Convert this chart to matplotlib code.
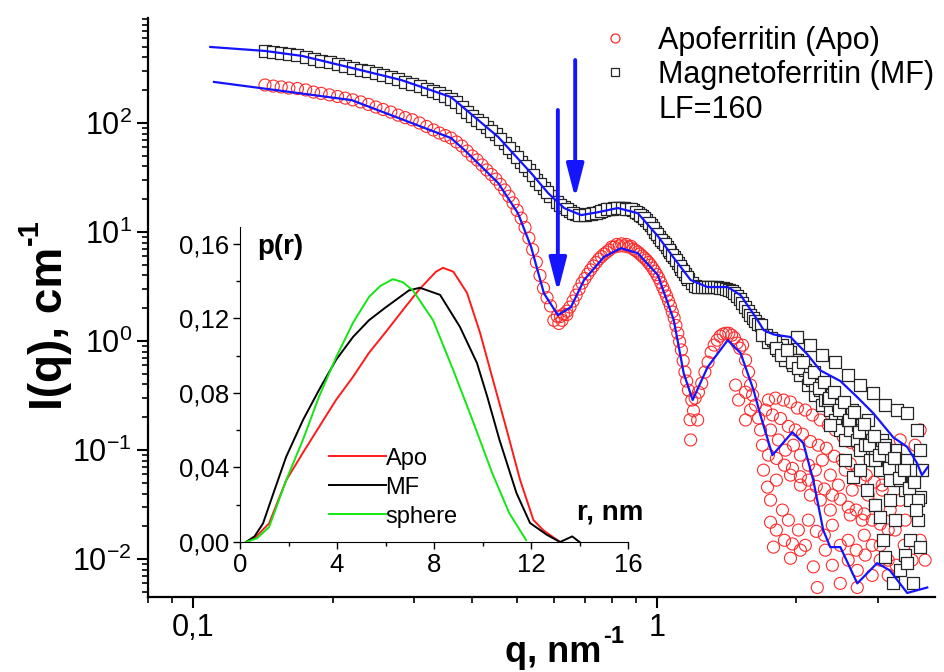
import matplotlib
matplotlib.use('Agg')
import matplotlib.pyplot as plt
from matplotlib.lines import Line2D
from matplotlib.ticker import FixedLocator, NullFormatter, LogLocator

plt.rcParams['font.family'] = 'Liberation Sans'
plt.rcParams['mathtext.fontset'] = 'custom'
plt.rcParams['mathtext.rm'] = 'Liberation Sans'
plt.rcParams['mathtext.it'] = 'Liberation Sans:italic'
plt.rcParams['mathtext.bf'] = 'Liberation Sans:bold'

# ---- SAXS data: apoferritin (circles) ----
q_apo = [0.143, 0.149, 0.155, 0.161, 0.168, 0.175, 0.182, 0.189, 0.197, 0.205,
         0.213, 0.221, 0.230, 0.239, 0.248, 0.257, 0.267, 0.277, 0.287, 0.297,
         0.308, 0.319, 0.330, 0.340, 0.350, 0.360, 0.370, 0.380, 0.390, 0.400,
         0.410, 0.430, 0.450, 0.470, 0.490, 0.510, 0.530, 0.550, 0.570, 0.590,
         0.600, 0.610, 0.615, 0.625, 0.630, 0.640, 0.650, 0.670, 0.690, 0.710,
         0.730, 0.750, 0.770, 0.790, 0.810, 0.830, 0.850, 0.870, 0.890, 0.910,
         0.930, 0.950, 0.970, 0.990, 1.010, 1.030, 1.050, 1.070, 1.090, 1.110,
         1.130, 1.150, 1.170, 1.180, 1.183, 1.190, 1.200, 1.210, 1.225, 1.230,
         1.250, 1.270, 1.290, 1.310, 1.330, 1.350, 1.370, 1.390, 1.410, 1.430,
         1.450, 1.470, 1.479, 1.490, 1.501, 1.510, 1.531, 1.554, 1.554, 1.577,
         1.593, 1.593, 1.609, 1.633, 1.657, 1.674, 1.690, 1.554, 1.741, 1.803,
         1.876, 1.942, 2.010, 2.091, 2.165, 2.252, 2.344, 2.426, 2.524, 2.613,
         2.719, 1.759, 1.829, 1.894, 1.971, 2.040, 2.123, 2.197, 2.275, 2.367,
         2.463, 2.549, 2.639, 2.746, 2.857, 2.958, 3.062, 3.186, 1.699, 1.733,
         1.759, 1.811, 1.866, 1.759, 1.785, 1.942, 1.922, 2.020, 2.091, 2.176,
         2.219, 2.309, 2.391, 2.487, 2.587, 2.706, 2.706, 2.815, 2.914, 3.032,
         3.155, 3.266, 3.348, 3.432, 3.517, 3.606, 3.697, 3.348, 3.186, 3.032,
         2.885, 2.773, 2.613, 2.367, 2.252, 2.144, 2.040, 1.942, 3.697, 3.789]
I_apo = [223, 218, 214, 209, 207, 201, 192, 187, 181, 175,
         169, 163, 156, 148, 140, 133, 126, 118, 112, 107,
         100, 92.9, 86.3, 80.9, 76.7, 72.8, 67.0, 61.5, 55.3, 49.8,
         45.8, 37.1, 30.6, 24.3, 18.5, 13.4, 8.8, 5.3, 3.06, 2.10,
         1.55, 1.69, 1.45, 1.55, 1.77, 1.75, 2.05, 2.64, 3.40, 4.12,
         4.88, 5.65, 6.28, 6.84, 7.28, 7.44, 7.44, 7.28, 6.98, 6.56,
         6.03, 5.54, 4.98, 4.38, 3.78, 3.13, 2.59, 2.10, 1.63, 1.18,
         0.83, 0.52, 0.355, 0.19, 0.124, 0.288, 0.23, 0.30, 0.189, 0.34,
         0.41, 0.52, 0.64, 0.79, 0.92, 1.02, 1.11, 1.16, 1.18, 1.18,
         1.13, 1.07, 0.395, 0.96, 0.288, 0.86, 0.918, 0.670, 0.340, 0.520,
         0.395, 0.233, 0.320, 0.259, 0.197, 0.153, 0.111, 0.189, 0.288, 0.300,
         0.288, 0.276, 0.243, 0.233, 0.210, 0.189, 0.170, 0.153, 0.132, 0.118,
         0.107, 0.153, 0.124, 0.100, 0.111, 0.090, 0.0728, 0.0656, 0.081, 0.059,
         0.0478, 0.0656, 0.043, 0.0531, 0.0387, 0.0313, 0.043, 0.0282, 0.0656, 0.0458,
         0.0348, 0.0531, 0.0282, 0.0218, 0.0129, 0.0102, 0.0228, 0.0185, 0.0134, 0.0085,
         0.0055, 0.0121, 0.0088, 0.0060, 0.0149, 0.0079, 0.0055, 0.0109, 0.0071, 0.0134,
         0.0098, 0.0185, 0.0348, 0.0228, 0.0478, 0.111, 0.153, 0.124, 0.0656, 0.090,
         0.081, 0.0228, 0.0254, 0.0282, 0.0348, 0.0387, 0.0478, 0.059, 0.0149, 0.0098]

# more circles read inside the scattered high-q cloud
q_apo_cloud = [1.716, 1.776, 1.848, 1.922, 1.990, 2.061, 2.144, 2.230, 2.321, 2.415,
               2.512, 2.613, 2.719, 2.829, 2.943, 3.062, 1.741, 1.811, 1.885, 1.961,
               2.040, 2.123, 2.208, 2.298, 2.391, 2.487, 2.587, 2.692, 2.801, 2.914,
               3.032, 3.155, 1.811, 1.885, 1.961, 2.040, 2.123, 2.208, 2.298, 2.391,
               2.487, 2.587, 2.692, 2.801, 2.914, 3.032, 3.155, 3.282, 3.415, 3.552]
I_apo_cloud = [0.233, 0.210, 0.195, 0.165, 0.153, 0.140, 0.120, 0.111, 0.104, 0.088,
               0.081, 0.075, 0.063, 0.059, 0.051, 0.0478, 0.090, 0.084, 0.0728, 0.068,
               0.057, 0.0531, 0.0465, 0.044, 0.0387, 0.0355, 0.030, 0.0282, 0.026, 0.0228,
               0.0210, 0.0185, 0.0185, 0.0149, 0.0138, 0.0121, 0.0228, 0.0180, 0.0166, 0.0205,
               0.0134, 0.0098, 0.0121, 0.0166, 0.0134, 0.0098, 0.0071, 0.0088, 0.0134, 0.0098]

# extra points read along the dense part of both bands
q_mid = [0.42, 0.44, 0.46, 0.48, 0.50, 0.52, 0.54, 0.56, 0.58, 0.62,
         0.64, 0.66, 0.68, 0.70, 0.72, 0.74, 0.76, 0.78, 0.80, 0.82,
         0.84, 0.86, 0.88, 0.90, 0.92, 0.94, 0.96, 0.98, 1.00, 1.02,
         1.04, 1.06, 1.08, 1.10, 1.12, 1.14, 1.16]
I_apo_mid = [41.2, 33.7, 27.3, 21.3, 15.8, 11.0, 6.9, 4.0, 2.5, 1.68,
             1.88, 2.33, 3.0, 3.75, 4.5, 5.25, 5.96, 6.56, 7.3, 7.7,
             7.8, 7.7, 7.4, 6.77, 6.29, 5.78, 5.25, 4.67, 4.07, 3.44,
             2.85, 2.33, 1.85, 1.39, 0.99, 0.66, 0.43]
I_mf_mid = [99, 85, 72, 59.6, 48.8, 40.4, 33.4, 27.5, 23.3, 17.8,
            16.2, 15.1, 14.4, 14.4, 14.7, 15.0, 15.5, 16.1, 16.4, 16.6,
            16.6, 16.4, 16.1, 15.4, 14.4, 13.4, 12.2, 10.8, 9.5, 8.5,
            7.7, 6.9, 6.2, 5.5, 4.9, 4.35, 3.9]

# ---- SAXS data: magnetoferritin (squares) ----
q_mf = [0.143, 0.149, 0.155, 0.161, 0.168, 0.175, 0.182, 0.189, 0.197, 0.205,
        0.213, 0.221, 0.230, 0.239, 0.248, 0.257, 0.267, 0.277, 0.287, 0.297,
        0.308, 0.319, 0.330, 0.340, 0.350, 0.360, 0.370, 0.380, 0.390, 0.400,
        0.410, 0.430, 0.450, 0.470, 0.490, 0.510, 0.530, 0.550, 0.570, 0.590,
        0.610, 0.630, 0.650, 0.670, 0.690, 0.710, 0.730, 0.750, 0.770, 0.790,
        0.810, 0.830, 0.850, 0.870, 0.890, 0.910, 0.930, 0.950, 0.970, 0.990,
        1.010, 1.030, 1.050, 1.070, 1.090, 1.110, 1.130, 1.150, 1.170, 1.190,
        1.210, 1.230, 1.250, 1.270, 1.290, 1.310, 1.330, 1.350, 1.370, 1.390,
        1.410, 1.430, 1.450, 1.470, 1.490, 1.510, 1.530, 1.550, 1.570, 1.590,
        1.610, 1.630, 1.650, 1.674, 1.716, 1.741, 1.785, 1.829, 1.866, 1.894,
        1.942, 1.971, 2.010, 2.040, 2.091, 2.123, 2.165, 2.197, 2.252, 2.275,
        2.309, 2.367, 2.391, 2.426, 2.463, 2.487, 2.524, 2.549, 2.587, 2.613,
        2.639, 2.706, 2.719, 2.746, 2.773, 2.815, 2.857, 2.885, 2.914, 2.958,
        3.032, 3.062, 3.155, 3.186, 3.266, 3.348, 3.432, 3.466, 3.517, 3.570,
        3.606, 2.010, 2.144, 2.275, 2.426, 2.587, 2.746, 2.929, 3.108, 3.299,
        3.466, 3.641, 3.697, 2.367, 2.549, 2.653, 2.746, 2.843, 2.958, 3.032,
        3.077, 3.108, 3.234, 3.348, 3.432, 3.466, 3.517, 3.570, 3.659, 3.697,
        3.733, 3.697, 3.266, 3.186, 3.348, 2.958, 3.108, 2.613, 2.344, 2.197,
        1.990, 1.894, 1.803]
I_mf = [458, 448, 438, 430, 421, 403, 386, 374, 363, 348,
        333, 320, 306, 297, 288, 275, 264, 251, 238, 228,
        218, 207, 197, 187, 177, 166, 156, 140, 126, 116,
        107, 91.9, 79.3, 65.6, 54.2, 43.9, 37.1, 30.0, 25.3, 21.4,
        18.8, 16.9, 15.6, 14.6, 14.3, 14.6, 14.9, 15.2, 15.9, 16.3,
        16.6, 16.6, 16.6, 16.3, 15.9, 14.9, 14.0, 12.9, 11.6, 10.0,
        9.0, 8.1, 7.3, 6.6, 5.9, 5.2, 4.6, 4.12, 3.71, 3.40,
        3.20, 3.13, 3.13, 3.13, 3.13, 3.13, 3.13, 3.13, 3.06, 3.06,
        3.00, 2.93, 2.88, 2.76, 2.59, 2.43, 2.23, 2.05, 1.88, 1.73,
        1.63, 1.52, 1.43, 1.40, 1.13, 0.98, 1.02, 0.826, 0.918, 0.670,
        0.792, 0.602, 0.670, 0.488, 0.542, 0.395, 0.439, 0.320, 0.355, 0.259,
        0.288, 0.233, 0.320, 0.189, 0.259, 0.153, 0.218, 0.124, 0.189, 0.153,
        0.233, 0.124, 0.170, 0.100, 0.153, 0.111, 0.189, 0.081, 0.124, 0.100,
        0.0656, 0.124, 0.081, 0.0531, 0.100, 0.0656, 0.043, 0.081, 0.0348, 0.0531,
        0.0656, 1.09, 0.918, 0.745, 0.641, 0.488, 0.395, 0.333, 0.259, 0.233,
        0.218, 0.153, 0.100, 0.170, 0.081, 0.0565, 0.0656, 0.043, 0.0313, 0.0243,
        0.0149, 0.0104, 0.0060, 0.0079, 0.0109, 0.0092, 0.0149, 0.0060, 0.0228, 0.0371,
        0.0656, 0.0129, 0.0228, 0.0348, 0.0531, 0.081, 0.111, 0.189, 0.288, 0.395,
        0.670, 0.826, 0.98]

# more squares read along the dark high-q band
q_mf_band = [1.690, 1.759, 1.811, 1.857, 1.913, 1.961, 2.020, 2.071, 2.133, 2.187,
             2.241, 2.298, 2.355, 2.415, 2.475, 2.537, 2.600, 2.666, 2.733, 2.801,
             2.871, 2.943, 3.016, 3.092, 3.170, 3.249, 3.331, 3.415, 3.500, 3.588,
             3.659, 3.623]
I_mf_band = [1.13, 1.065, 0.863, 0.745, 0.826, 0.641, 0.565, 0.641, 0.458, 0.520,
             0.371, 0.421, 0.300, 0.340, 0.233, 0.276, 0.189, 0.223, 0.146, 0.173,
             0.111, 0.134, 0.090, 0.104, 0.0684, 0.0845, 0.0553, 0.0656, 0.0448, 0.0508,
             0.0348, 0.0282]

# ---- model fits (blue lines) ----
q_apo_fit = [0.111, 0.220, 0.360, 0.385, 0.455, 0.502, 0.536, 0.571, 0.612, 0.653,
             0.697, 0.769, 0.837, 0.910, 1.005, 1.088, 1.143, 1.195, 1.287, 1.422,
             1.516, 1.617, 1.673, 1.776, 1.960, 2.070, 2.175, 2.285, 2.366, 2.488,
             2.706, 2.986, 3.180, 3.467, 3.830]
I_apo_fit = [238, 162, 72.8, 56.5, 28.2, 14.9, 7.28, 2.75, 1.73, 2.05,
             3.63, 5.9, 7.12, 6.4, 4.04, 1.56, 0.508, 0.288, 0.577, 1.02,
             0.776, 0.355, 0.209, 0.090, 0.146, 0.116, 0.053, 0.0185, 0.0129, 0.0129,
             0.0060, 0.0092, 0.0079, 0.0049, 0.0055]
q_mf_fit = [0.109, 0.143, 0.172, 0.220, 0.281, 0.360, 0.455, 0.536, 0.583, 0.631,
            0.687, 0.747, 0.824, 0.910, 1.005, 1.088, 1.183, 1.287, 1.422, 1.516,
            1.649, 1.700, 1.786, 1.942, 2.110, 2.250, 2.488, 2.706, 2.930, 3.235,
            3.467, 3.640, 3.730, 3.840]
I_mf_fit = [498, 458, 412, 320, 248, 173, 74.5, 34.7, 22.8, 16.6,
            14.3, 15.2, 16.6, 14.9, 9.2, 5.8, 3.63, 3.13, 3.13, 2.64,
            1.56, 1.26, 1.15, 1.09, 0.76, 0.54, 0.43, 0.306, 0.218, 0.131,
            0.107, 0.076, 0.059, 0.070]

# ---- inset: pair distance distribution p(r) ----
r_apo = [0.25, 0.6, 1.2, 1.9, 2.6, 3.26, 3.96, 4.66, 5.32, 6.02, 6.72, 7.38,
         8.08, 8.37, 8.8, 9.36, 9.9, 10.43, 11.0, 11.55, 12.1, 12.5, 12.9, 13.2]
p_apo = [0, 0.002, 0.010, 0.033, 0.048, 0.0617, 0.0762, 0.0886, 0.1015, 0.1128,
         0.1245, 0.1353, 0.145, 0.1471, 0.145, 0.1337, 0.1122, 0.087, 0.0601,
         0.0333, 0.0118, 0.0064, 0.0027, 0]
r_mf = [0.25, 0.6, 0.95, 1.4, 1.9, 2.6, 3.26, 3.96, 4.66, 5.32, 6.02, 6.97, 7.42,
        8.25, 9.07, 9.77, 10.2, 10.7, 11.4, 11.96, 12.66, 13.2, 13.7, 14.0]
p_mf = [0, 0.003, 0.010, 0.027, 0.0456, 0.0655, 0.0816, 0.0977, 0.110, 0.119,
        0.126, 0.135, 0.1364, 0.1326, 0.1154, 0.0961, 0.0778, 0.0548, 0.0263,
        0.0102, 0.0038, 0, 0.003, 0]
r_sph = [0.25, 0.7, 1.2, 1.9, 2.6, 3.26, 3.96, 4.66, 5.32, 5.8, 6.3, 6.7, 7.13,
         7.96, 8.8, 9.6, 10.4, 11.1, 11.8]
p_sph = [0, 0.002, 0.008, 0.033, 0.055, 0.078, 0.099, 0.1176, 0.1315, 0.1375,
         0.141, 0.1395, 0.135, 0.119, 0.092, 0.065, 0.037, 0.0156, 0.001]

y_ticks = [0.01, 0.1, 1, 10, 100]
y_ticklabels = [r'$\mathregular{10^{-2}}$', r'$\mathregular{10^{-1}}$',
                r'$\mathregular{10^{0}}$', r'$\mathregular{10^{1}}$',
                r'$\mathregular{10^{2}}$']
x_ticks = [0.1, 1]
x_ticklabels = ['0,1', '1']
x_minor = [0.08, 0.09, 0.2, 0.3, 0.4, 0.5, 0.6, 0.7, 0.8, 0.9, 2, 3]
in_xticks = [0, 4, 8, 12, 16]
in_yticks = [0, 0.04, 0.08, 0.12, 0.16]
in_yticklabels = ['0,00', '0,04', '0,08', '0,12', '0,16']

RED = '#ff2a2a'
BLUE = '#1414ff'
SQ = '#262626'
W, H = 944, 672

fig = plt.figure(figsize=(9.44, 6.72), dpi=100)
ax = fig.add_axes([148/W, 75/H, 787/W, 579/H])

ax.scatter(q_apo + q_mid + q_apo_cloud, I_apo + I_apo_mid + I_apo_cloud, s=75,
           marker='o', facecolors='none', edgecolors=RED, linewidths=0.8, zorder=2)
ax.scatter(q_mf + q_mid + q_mf_band, I_mf + I_mf_mid + I_mf_band, s=64, marker='s',
           facecolors='white', edgecolors=SQ, linewidths=0.9, zorder=3)
ax.plot(q_apo_fit, I_apo_fit, color=BLUE, lw=1.6, zorder=4)
ax.plot(q_mf_fit, I_mf_fit, color=BLUE, lw=1.6, zorder=4)

ax.set_xscale('log')
ax.set_yscale('log')
ax.set_xlim(0.08, 3.98)
ax.set_ylim(0.0045, 918)

ax.set_xticks(x_ticks)
ax.set_xticklabels(x_ticklabels)
ax.xaxis.set_minor_locator(FixedLocator(x_minor))
ax.xaxis.set_minor_formatter(NullFormatter())
ax.set_yticks(y_ticks)
ax.set_yticklabels(y_ticklabels)
ax.yaxis.set_minor_locator(LogLocator(base=10, subs=range(2, 10)))
ax.yaxis.set_minor_formatter(NullFormatter())

for s in ['top', 'right']:
    ax.spines[s].set_visible(False)
for s in ['left', 'bottom']:
    ax.spines[s].set_linewidth(1.6)
ax.tick_params(which='major', direction='out', length=8, width=1.5, labelsize=22)
ax.tick_params(which='minor', direction='out', length=4.5, width=1.2)

# arrows marking the first minimum
for q_arr, top, tip in [(0.667, 378, 20.5), (0.612, 131.6, 2.82)]:
    ax.annotate('', xy=(q_arr, tip), xytext=(q_arr, top),
                arrowprops=dict(arrowstyle='-|>,head_length=0.85,head_width=0.22',
                                color=BLUE, lw=2.8, mutation_scale=24,
                                shrinkA=0, shrinkB=0), zorder=6)

handles = [Line2D([], [], ls='none', marker='o', ms=6.5, mfc='none', mec=RED, mew=0.9),
           Line2D([], [], ls='none', marker='s', ms=6, mfc='white', mec=SQ, mew=0.9),
           Line2D([], [], ls='none')]
labels = ['Apoferritin (Apo)', 'Magnetoferritin (MF)', 'LF=160']
ax.legend(handles, labels, loc='upper left', bbox_to_anchor=(600/W, 0.962),
          bbox_transform=fig.transFigure, frameon=False, borderpad=0,
          borderaxespad=0, handlelength=1.0, handletextpad=0.9,
          labelspacing=0.15, fontsize=22)

# axis titles with a small hyphen superscript, as in the original
renderer = fig.canvas.get_renderer()
tx = fig.text(505/W, (H - 662)/H, 'q, nm', fontsize=26, fontweight='bold',
              ha='left', va='baseline')
bb = tx.get_window_extent(renderer)
fig.text((bb.x1 + 2)/W, (H - 662 + 19)/H, '-1', fontsize=17, fontweight='bold',
         ha='left', va='baseline')
ty = fig.text(62/W, (H - 410)/H, 'I(q), cm', fontsize=33, fontweight='bold',
              rotation=90, rotation_mode='anchor', ha='left', va='baseline')
bb = ty.get_window_extent(renderer)
fig.text((62 - 24)/W, (bb.y1 + 2)/H, '-1', fontsize=21, fontweight='bold',
         rotation=90, rotation_mode='anchor', ha='left', va='baseline')

# ---- inset ----
axin = fig.add_axes([240/W, 130/H, 388/W, 315/H])
axin.patch.set_alpha(0)
axin.plot(r_apo, p_apo, color='#ff1a1a', lw=1.4, label='Apo')
axin.plot(r_mf, p_mf, color='black', lw=1.4, label='MF')
axin.plot(r_sph, p_sph, color='#14e614', lw=1.4, label='sphere')
axin.set_xlim(0, 16)
axin.set_ylim(0, 0.169)
axin.set_xticks(in_xticks)
axin.set_xticklabels([str(v) for v in in_xticks])
axin.xaxis.set_minor_locator(FixedLocator([2, 6, 10, 14]))
axin.set_yticks(in_yticks)
axin.set_yticklabels(in_yticklabels)
axin.yaxis.set_minor_locator(FixedLocator([0.02, 0.06, 0.10, 0.14]))
for s in ['top', 'right']:
    axin.spines[s].set_visible(False)
axin.tick_params(which='major', direction='out', length=5, width=1, labelsize=18.5,
                 pad=3)
axin.tick_params(which='minor', direction='out', length=3, width=1)
axin.text(0.045, 0.935, 'p(r)', transform=axin.transAxes, fontsize=20,
          fontweight='bold', ha='left', va='center')
axin.text(0.955, 0.095, 'r, nm', transform=axin.transAxes, fontsize=20,
          fontweight='bold', ha='center', va='center')
axin.legend(loc='upper left', bbox_to_anchor=(0.229, 0.30), frameon=False,
            handlelength=2.4, handletextpad=0.0, labelspacing=0.3,
            borderpad=0, borderaxespad=0, fontsize=17)

fig.savefig('out.png', dpi=100)
